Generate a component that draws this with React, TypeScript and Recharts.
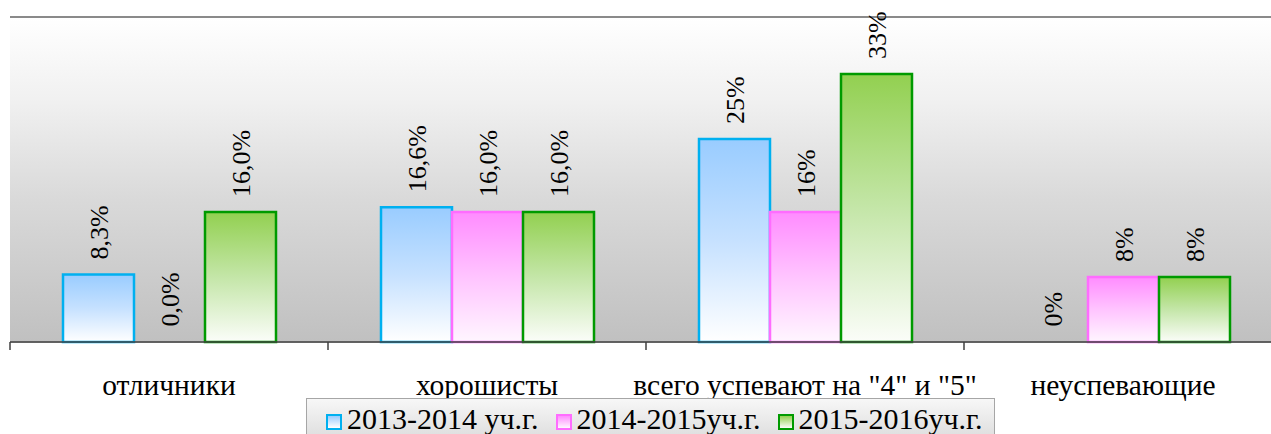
import { Bar, BarChart, CartesianGrid, LabelList, Rectangle, ReferenceLine, XAxis, YAxis } from "recharts";

const categories = ["отличники", "хорошисты", "всего успевают на \"4\" и \"5\"", "неуспевающие"];
const y2013 = [8.3, 16.6, 25, 0];
const y2014 = [0, 16, 16, 8];
const y2015 = [16, 16, 33, 8];
const lbl2013 = ["8,3%", "16,6%", "25%", "0%"];
const lbl2014 = ["0,0%", "16,0%", "16%", "8%"];
const lbl2015 = ["16,0%", "16,0%", "33%", "8%"];
const seriesNames = ["2013-2014 уч.г.", "2014-2015уч.г.", "2015-2016уч.г."];
const yTicks = [0, 10, 20, 30, 40];

const data = categories.map((name, i) => ({
    name,
    a: y2013[i],
    b: y2014[i],
    c: y2015[i],
    la: lbl2013[i],
    lb: lbl2014[i],
    lc: lbl2015[i],
}));

const FONT = "'Liberation Serif', 'Times New Roman', serif";

const series = [
    { key: "a", label: "la", stroke: "#00b0f0", grad: "gBlue", top: "#99ccff", mid: "#c6e1ff", bottom: "#ffffff" },
    { key: "b", label: "lb", stroke: "#ff6cff", grad: "gPink", top: "#ff8cff", mid: "#ffc4ff", bottom: "#fff6ff" },
    { key: "c", label: "lc", stroke: "#009a00", grad: "gGreen", top: "#92d050", mid: "#c4e6a8", bottom: "#fbfdf9" },
];

const ValueLabel = (props: any) => {
    const { x, y, width, value } = props;
    const cx = x + width / 2;
    const cy = y - 15;
    return (
        <text
            x={cx}
            y={cy}
            transform={`rotate(-90 ${cx} ${cy})`}
            textAnchor="start"
            dy="0.35em"
            fontFamily={FONT}
            style={{ fontFamily: FONT }}
            fontSize={26}
            fill="#000"
        >
            {value}
        </text>
    );
};

const CategoryTick = (props: any) => {
    const { x, y, payload } = props;
    const half = payload?.offset ?? 0;
    return (
        <g>
            <line x1={x - half} y1={y} x2={x - half} y2={y + 8} stroke="#404040" strokeWidth={1.5} />
            <text x={x} y={y} dy={53} textAnchor="middle" style={{ fontFamily: FONT }} fontSize={29.5} fill="#000">
                {payload.value}
            </text>
        </g>
    );
};

export default function App() {
    return (
        <div style={{ position: "absolute", left: 0, top: 0, width: 1271, height: 434, overflow: "hidden", background: "#fff" }}>
            <BarChart
                width={1290}
                height={434}
                data={data}
                margin={{ top: 17, right: 8, left: 10, bottom: 0 }}
                barCategoryGap={53}
                barGap={0}
            >
                <defs>
                    <linearGradient id="plotBg" x1="0" y1="0" x2="0" y2="1">
                        <stop offset="0" stopColor="#ffffff" />
                        <stop offset="0.25" stopColor="#f1f1f1" />
                        <stop offset="0.55" stopColor="#dadada" />
                        <stop offset="1" stopColor="#c0c0c0" />
                    </linearGradient>
                    {series.map((s) => (
                        <linearGradient key={s.grad} id={s.grad} x1="0" y1="0" x2="0" y2="1">
                            <stop offset="0" stopColor={s.top} />
                            <stop offset="0.5" stopColor={s.mid} />
                            <stop offset="1" stopColor={s.bottom} />
                        </linearGradient>
                    ))}
                </defs>
                <CartesianGrid vertical={false} stroke="#b4b4b4" strokeWidth={1.5} fill="url(#plotBg)" fillOpacity={1} />
                <XAxis
                    dataKey="name"
                    height={92}
                    tickLine={false}
                    tickSize={0}
                    tickMargin={0}
                    axisLine={{ stroke: "#404040", strokeWidth: 1.5 }}
                    tick={<CategoryTick />}
                    interval={0}
                />
                <YAxis
                    width={0}
                    domain={[0, 40]}
                    ticks={yTicks}
                    tick={false}
                    tickLine={false}
                    axisLine={{ stroke: "#8a8a8a", strokeWidth: 2 }}
                />
                <ReferenceLine y={40} stroke="#8a8a8a" strokeWidth={2} />
                {series.map((s) => (
                    <Bar
                        key={s.key}
                        dataKey={s.key}
                        fill={`url(#${s.grad})`}
                        stroke={s.stroke}
                        strokeWidth={2.5}
                        minPointSize={0.5}
                        isAnimationActive={false}
                        shape={(p: any) => (p.payload && p.payload[s.key] === 0 ? <g /> : <Rectangle {...p} />)}
                    >
                        <LabelList dataKey={s.label} content={<ValueLabel />} />
                    </Bar>
                ))}
            </BarChart>
            <div
                style={{
                    position: "absolute",
                    left: 306,
                    top: 398,
                    width: 689,
                    height: 44,
                    boxSizing: "border-box",
                    border: "1.5px solid #a6a6a6",
                    background: "linear-gradient(#f7f7f7, #dcdcdc)",
                    display: "flex",
                    alignItems: "flex-start",
                    paddingLeft: 19,
                    paddingTop: 5,
                    gap: 17,
                    fontFamily: FONT,
                    fontSize: 30,
                    lineHeight: 1,
                    color: "#000",
                    whiteSpace: "nowrap",
                }}
            >
                {series.map((s, i) => (
                    <div key={s.key} style={{ display: "flex", alignItems: "center", gap: 5 }}>
                        <span
                            style={{
                                display: "inline-block",
                                width: 16,
                                height: 16,
                                boxSizing: "border-box",
                                border: `2.5px solid ${s.stroke}`,
                                background: `linear-gradient(${s.top}, ${s.bottom})`,
                                marginTop: 5,
                            }}
                        />
                        <span>{seriesNames[i]}</span>
                    </div>
                ))}
            </div>
        </div>
    );
}
